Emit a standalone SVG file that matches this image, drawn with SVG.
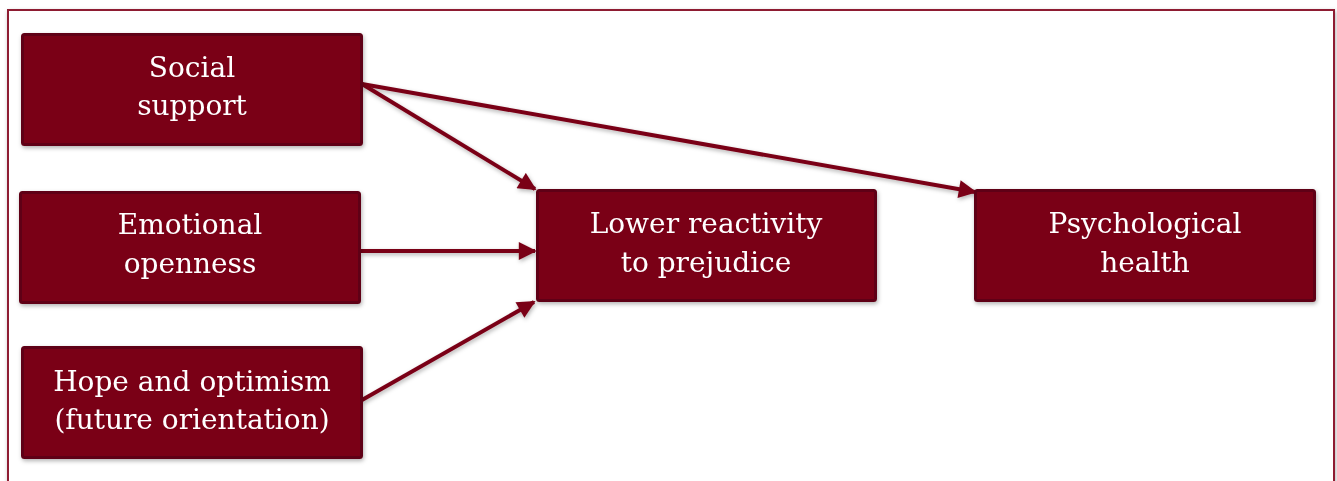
<svg xmlns="http://www.w3.org/2000/svg" width="1337" height="481" viewBox="0 0 1337 481">
<style>
.node rect{fill:#7A0019;stroke:#5E0012;stroke-width:3}
.node text{fill:#FFFFFF;font-family:"DejaVu Serif","Liberation Serif",serif;font-size:28px;text-anchor:middle}
.conn line{stroke:#7A0019;stroke-width:4;marker-end:url(#ah)}
</style>
<defs>
<marker id="ah" viewBox="0 0 10 10" refX="9" refY="5" markerWidth="5" markerHeight="4.5" orient="auto" markerUnits="strokeWidth">
<path d="M0,0 L10,5 L0,10 z" fill="#7A0019"/>
</marker>
<filter id="sh" x="-5%" y="-5%" width="110%" height="120%">
<feDropShadow dx="1" dy="2" stdDeviation="2" flood-color="#000" flood-opacity="0.3"/>
</filter>
</defs>
<rect x="8" y="10" width="1326" height="480" fill="#FFFFFF" stroke="#8E1B30" stroke-width="2" filter="url(#sh)"/>
<g class="conn" filter="url(#sh)">
<line x1="362" y1="84" x2="535" y2="189"/>
<line x1="362" y1="84" x2="975" y2="192"/>
<line x1="361" y1="251" x2="535" y2="251"/>
<line x1="362" y1="400" x2="534" y2="302"/>
</g>
<g id="social" class="node" filter="url(#sh)">
<rect x="22.5" y="34.5" width="339" height="110" rx="2"/>
<text x="192" y="77">Social</text>
<text x="192" y="115">support</text>
</g>
<g id="emotional" class="node" filter="url(#sh)">
<rect x="20.5" y="192.5" width="339" height="110" rx="2"/>
<text x="190" y="234">Emotional</text>
<text x="190" y="273">openness</text>
</g>
<g id="hope" class="node" filter="url(#sh)">
<rect x="22.5" y="347.5" width="339" height="110" rx="2"/>
<text x="192" y="391">Hope and optimism</text>
<text x="192" y="429">(future orientation)</text>
</g>
<g id="lower" class="node" filter="url(#sh)">
<rect x="537.5" y="190.5" width="338" height="110" rx="2"/>
<text x="706" y="233">Lower reactivity</text>
<text x="706" y="272">to prejudice</text>
</g>
<g id="psych" class="node" filter="url(#sh)">
<rect x="975.5" y="190.5" width="339" height="110" rx="2"/>
<text x="1145" y="233">Psychological</text>
<text x="1145" y="272">health</text>
</g>
</svg>
